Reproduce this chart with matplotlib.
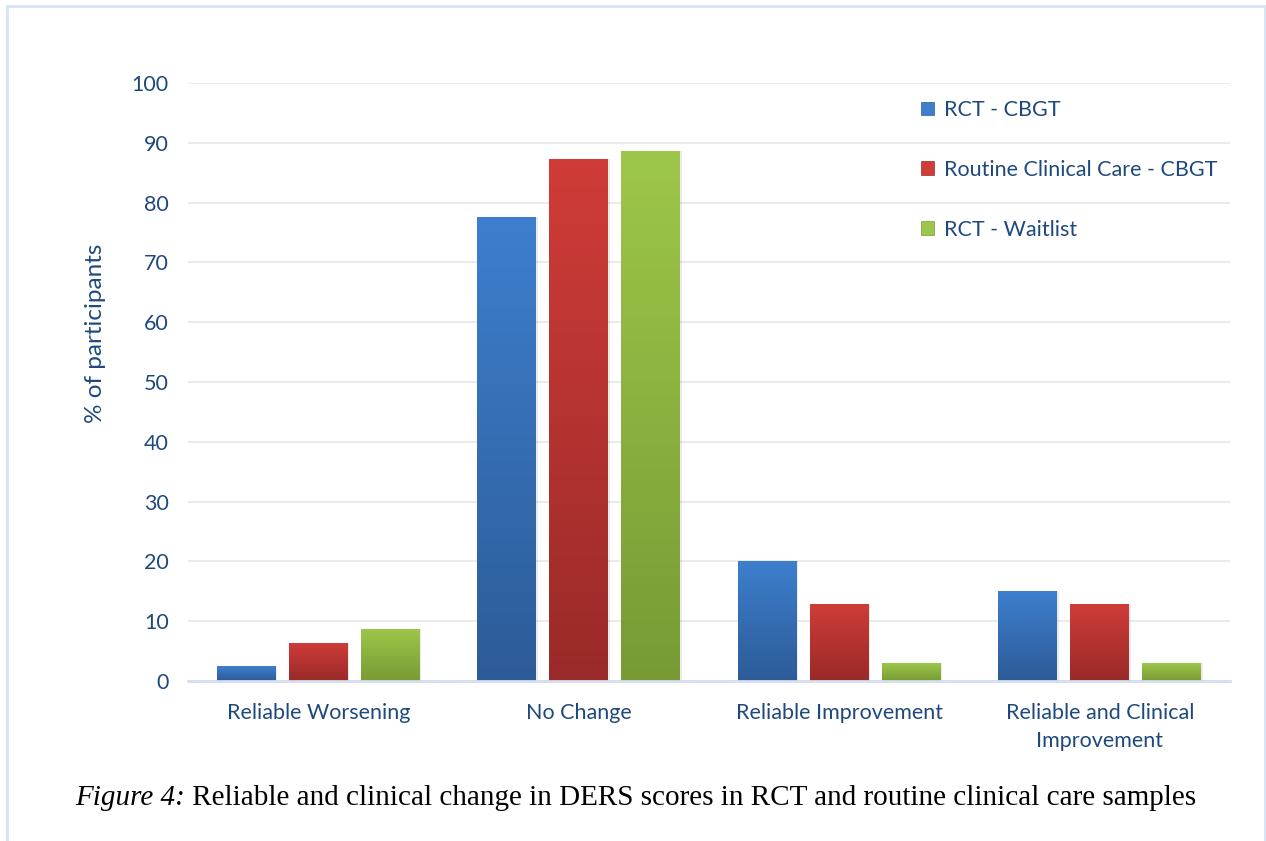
import numpy as np
import matplotlib
matplotlib.use('Agg')
import matplotlib.pyplot as plt
from matplotlib.colors import LinearSegmentedColormap
from matplotlib.patches import Rectangle

categories = ['Reliable Worsening', 'No Change', 'Reliable Improvement',
              'Reliable and Clinical\nImprovement']
series = ['RCT - CBGT', 'Routine Clinical Care - CBGT', 'RCT - Waitlist']
rct_cbgt = [2.5, 77.6, 20.0, 15.0]
routine_cbgt = [6.4, 87.3, 12.9, 12.9]
rct_waitlist = [8.7, 88.6, 3.0, 3.0]

# (top colour, bottom colour) for each series gradient
gradients = [('#3D7FCE', '#2D5B97'),
             ('#D03C38', '#992A29'),
             ('#9DC74A', '#789A34')]
text_color = '#1F497D'

plt.rcParams['font.family'] = ['Lato', 'DejaVu Sans']

fig = plt.figure(figsize=(12.66, 8.41), dpi=100)
ax = fig.add_axes([188 / 1266, 1 - 681 / 841, 1042 / 1266, 598 / 841])

x = np.arange(len(categories))
width = 0.226
offsets = [-0.276, 0.0, 0.276]
all_values = [rct_cbgt, routine_cbgt, rct_waitlist]

handles = []
for vals, off, (top, bot), name in zip(all_values, offsets, gradients, series):
    bars = ax.bar(x + off, vals, width, color=top, zorder=3, label=name)
    cmap = LinearSegmentedColormap.from_list('g', [bot, top])
    grad = np.linspace(0, 1, 256).reshape(-1, 1)
    for b in bars:
        bx, by = b.get_x(), b.get_y()
        bw, bh = b.get_width(), b.get_height()
        # soft shadow
        ax.add_patch(Rectangle((bx + 0.006, by), bw, bh, facecolor='#000000',
                               alpha=0.08, lw=0, zorder=2.5))
        im = ax.imshow(grad, cmap=cmap, origin='lower', aspect='auto',
                       extent=[bx, bx + bw, by, by + bh], zorder=4)
        im.set_clip_path(b)
    handles.append(Rectangle((0, 0), 1, 1, facecolor=top, edgecolor=bot, lw=0.5))

ax.set_xlim(-0.5, 3.5)
ax.set_ylim(0, 100)
ax.set_yticks(range(0, 101, 10))
ax.set_xticks(x)
ax.set_xticklabels(categories, linespacing=1.5)
ax.grid(axis='y', color='#EBEBEB', lw=1.5, zorder=0)
ax.set_axisbelow(True)
for s in ['top', 'right', 'left']:
    ax.spines[s].set_visible(False)
ax.spines['bottom'].set_color('#D5DEEF')
ax.spines['bottom'].set_linewidth(2)
ax.spines['bottom'].set_zorder(5)
ax.tick_params(axis='both', length=0, labelsize=15.5, colors=text_color)
ax.tick_params(axis='y', pad=14)
ax.tick_params(axis='x', pad=16)
ax.set_ylabel('% of participants', fontsize=17.5, color=text_color)
ax.yaxis.set_label_coords(-0.079, 0.582)

leg = ax.legend(handles, series, loc='upper left', bbox_to_anchor=(0.685, 1.004),
                frameon=False, fontsize=15.5, labelcolor=text_color,
                handlelength=0.6, handleheight=0.6, handletextpad=0.45,
                labelspacing=1.85)

# caption
caption = ' Reliable and clinical change in DERS scores in RCT and routine clinical care samples'
t1 = fig.text(75 / 1266, 1 - 805 / 841, 'Figure 4:', family='Liberation Serif',
              style='italic', fontsize=21, color='black')
ax.annotate(caption, xy=(1, 0), xycoords=t1, va='bottom', ha='left',
            family='Liberation Serif', fontsize=21, color='black',
            annotation_clip=False)

# outer frame
fig.patches.append(Rectangle((7 / 1266, -0.01), 1258 / 1266, 1 - 6 / 841 + 0.01,
                             transform=fig.transFigure, fill=False,
                             edgecolor='#D6E3F5', lw=2))

fig.savefig('out.png', dpi=100)
